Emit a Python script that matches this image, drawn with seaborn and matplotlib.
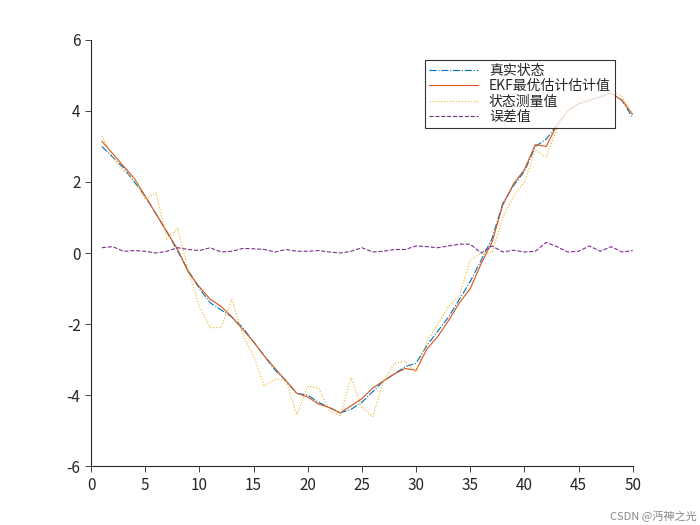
import numpy as np
import pandas as pd
import matplotlib
matplotlib.use("Agg")
import matplotlib.pyplot as plt
import seaborn as sns

k = list(range(1, 51))
true_state = [3.0, 2.7, 2.4, 2.0, 1.6, 1.1, 0.6, 0.05, -0.5, -1.0, -1.4, -1.6, -1.8, -2.1, -2.5, -2.9, -3.3, -3.6, -3.95, -4.0,
              -4.2, -4.35, -4.5, -4.4, -4.2, -3.9, -3.6, -3.4, -3.2, -3.1, -2.6, -2.2, -1.8, -1.3, -0.8, -0.2, 0.4, 1.4, 1.9, 2.3,
              3.0, 3.2, 3.6, 4.0, 4.2, 4.3, 4.4, 4.5, 4.3, 3.8]
ekf_est = [3.15, 2.8, 2.45, 2.1, 1.6, 1.1, 0.6, 0.1, -0.55, -0.95, -1.3, -1.5, -1.8, -2.15, -2.5, -2.9, -3.25, -3.6, -3.95, -4.05,
           -4.25, -4.35, -4.5, -4.3, -4.1, -3.8, -3.6, -3.4, -3.25, -3.3, -2.7, -2.35, -1.9, -1.4, -1.0, -0.3, 0.3, 1.35, 1.95, 2.35,
           3.05, 3.0, 3.6, 4.0, 4.2, 4.3, 4.4, 4.5, 4.3, 3.9]
measured = [3.3, 2.7, 2.3, 2.1, 1.5, 1.7, 0.4, 0.7, -0.5, -1.5, -2.1, -2.1, -1.3, -2.3, -2.9, -3.75, -3.55, -3.6, -4.55, -3.75,
            -3.8, -4.45, -4.6, -3.5, -4.35, -4.6, -3.6, -3.1, -3.05, -3.35, -2.5, -2.0, -1.5, -1.2, -0.2, 0.0, 0.0, 1.0, 1.6, 2.0,
            2.9, 2.7, 3.5, 4.0, 4.3, 4.3, 4.4, 4.6, 4.4, 3.9]
error = [0.15, 0.18, 0.05, 0.07, 0.05, 0.0, 0.05, 0.15, 0.1, 0.07, 0.15, 0.03, 0.05, 0.13, 0.12, 0.1, 0.03, 0.1, 0.05, 0.05,
         0.07, 0.03, 0.0, 0.05, 0.15, 0.03, 0.05, 0.1, 0.1, 0.2, 0.18, 0.15, 0.2, 0.25, 0.25, 0.0, 0.2, 0.03, 0.08, 0.03,
         0.05, 0.3, 0.18, 0.03, 0.05, 0.2, 0.05, 0.18, 0.03, 0.07]

labels = ["真实状态", "EKF最优估计估计值", "状态测量值", "误差值"]
colors = ["#0072BD", "#D95319", "#EDB120", "#7E2F8E"]
styles = ["-.", "-", ":", "--"]
series = [true_state, ekf_est, measured, error]

sns.set_style("ticks")
plt.rcParams['font.family'] = ['Noto Sans CJK SC', 'DejaVu Sans']
plt.rcParams['axes.unicode_minus'] = False

fig = plt.figure(figsize=(7, 5.25), dpi=100)
ax = fig.add_axes([0.13, 0.112, 0.774, 0.812])
for lab, col, ls, vals in zip(labels, colors, styles, series):
    df = pd.DataFrame({"k": k, "v": vals})
    sns.lineplot(data=df, x="k", y="v", ax=ax, color=col, linestyle=ls, linewidth=0.8, label=lab)

ax.set_xlim(0, 50)
ax.set_ylim(-6, 6)
ax.set_xticks(range(0, 51, 5))
ax.set_yticks(range(-6, 7, 2))
ax.set_xlabel("")
ax.set_ylabel("")
ax.tick_params(direction="out", labelsize=11, length=4, width=0.6)
for s in ["top", "right"]:
    ax.spines[s].set_visible(False)
leg = ax.legend(loc="upper right", bbox_to_anchor=(0.98, 0.97), frameon=True, fancybox=False,
                edgecolor="black", fontsize=10, handlelength=3.5, borderpad=0.3, labelspacing=0.1)
leg.get_frame().set_linewidth(0.8)
fig.text(0.995, 0.005, "CSDN @沔神之光", ha="right", va="bottom", fontsize=8, color="#888888")
fig.savefig("out.png", dpi=100)
